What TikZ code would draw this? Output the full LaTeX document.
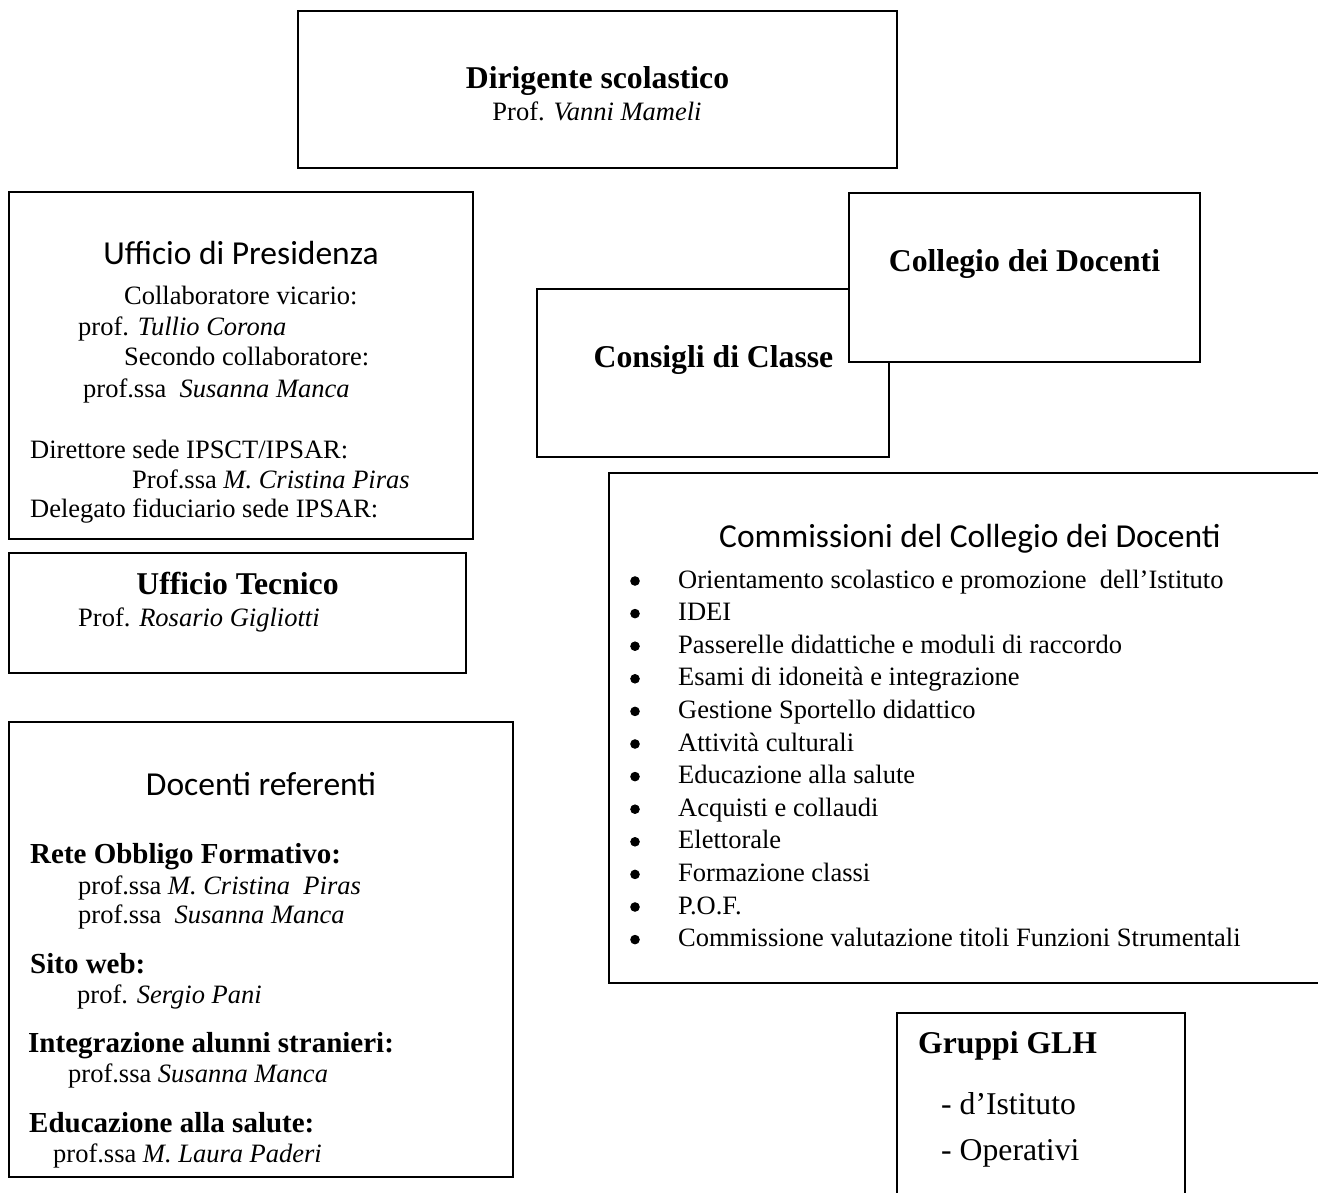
\documentclass[tikz,border=0pt]{standalone}
\usepackage{fontspec}
\setmainfont{Liberation Serif}
\newfontfamily\calib{Carlito}
\begin{document}
\begin{tikzpicture}[x=1pt,y=-1pt,
  box/.style={draw=black, line width=2pt, fill=white, inner sep=0pt, outer sep=0pt, anchor=north west},
  txt/.style={inner sep=0pt, anchor=base west, font=\fontsize{26.5}{30}\selectfont},
  ttl/.style={inner sep=0pt, anchor=base, font=\fontsize{31.7}{36}\selectfont\bfseries},
  sub/.style={inner sep=0pt, anchor=base west, font=\fontsize{29}{33}\selectfont\bfseries},
  cal/.style={inner sep=0pt, anchor=base, font=\fontsize{33.5}{38}\selectfont\calib},
  big/.style={inner sep=0pt, anchor=base west, font=\fontsize{31.7}{36}\selectfont},
  bul/.style={circle, draw=black, line width=1pt, fill=black, inner sep=0pt, minimum size=8.5pt}
]
\useasboundingbox (0,0) rectangle (1318,1193);
\clip (0,0) rectangle (1318,1193);

% Dirigente
\node[box, minimum width=599pt, minimum height=157pt] (dir) at (298,11) {};
\node[ttl] (dirt) at (597.5,89) {Dirigente scolastico};
\node[inner sep=0pt, anchor=base, font=\fontsize{26.5}{30}\selectfont] (dirs) at (597,121) {Prof. \textit{Vanni Mameli}};

% Ufficio di Presidenza
\node[box, minimum width=464pt, minimum height=347pt] (uff) at (9,192) {};
\node[cal] (uffh) at (241,265) {Ufficio di Presidenza};
\node[txt] (u1) at (124,305) {Collaboratore vicario:};
\node[txt] (u2) at (78,335) {prof. \textit{Tullio Corona}};
\node[txt] (u3) at (124,365) {Secondo collaboratore:};
\node[txt] (u4) at (83,397) {prof.ssa\ \ \textit{Susanna Manca}};
\node[txt] (u5) at (30,458) {Direttore sede IPSCT/IPSAR:};
\node[txt] (u6) at (132,488) {Prof.ssa \textit{M. Cristina Piras}};
\node[txt] (u7) at (30,517) {Delegato fiduciario sede IPSAR:};

% Ufficio Tecnico
\node[box, minimum width=457pt, minimum height=120pt] (tec) at (9,553) {};
\node[ttl] (tect) at (237.5,594) {Ufficio Tecnico};
\node[txt] (tecs) at (78,626) {Prof. \textit{Rosario Gigliotti}};

% Docenti referenti
\node[box, minimum width=504pt, minimum height=455pt] (doc) at (9,722) {};
\node[cal] (doch) at (261,795) {Docenti referenti};
\node[sub] (d1) at (30,863) {Rete Obbligo Formativo:};
\node[txt] (d2) at (78,894) {prof.ssa \textit{M. Cristina\ \ Piras}};
\node[txt] (d3) at (78,923) {prof.ssa\ \ \textit{Susanna Manca}};
\node[sub] (d4) at (30,973) {Sito web:};
\node[txt] (d5) at (77,1003) {prof. \textit{Sergio Pani}};
\node[sub] (d6) at (28,1052) {Integrazione alunni stranieri:};
\node[txt] (d7) at (68,1082) {prof.ssa \textit{Susanna Manca}};
\node[sub] (d8) at (29,1132) {Educazione alla salute:};
\node[txt] (d9) at (53,1162) {prof.ssa \textit{M. Laura Paderi}};

% Consigli di Classe and Collegio dei Docenti
\node[box, minimum width=352pt, minimum height=168pt] (cons) at (537,289) {};
\node[ttl] (const) at (713.5,367) {Consigli di Classe};
\node[box, minimum width=351pt, minimum height=169pt] (coll) at (849,193) {};
\node[ttl] (collt) at (1024.5,272) {Collegio dei Docenti};

% Commissioni
\node[box, minimum width=724pt, minimum height=510pt] (com) at (608.5,473) {};
\node[cal] (comh) at (970,547) {Commissioni del Collegio dei Docenti};
\foreach \t [count=\i] in {%
  {Orientamento scolastico e promozione\ \ dell’Istituto},
  {IDEI},
  {Passerelle didattiche e moduli di raccordo},
  {Esami di idoneità e integrazione},
  {Gestione Sportello didattico},
  {Attività culturali},
  {Educazione alla salute},
  {Acquisti e collaudi},
  {Elettorale},
  {Formazione classi},
  {P.O.F.},
  {Commissione valutazione titoli Funzioni Strumentali}} {
  \node[bul] (bul\i) at (635,{581+32.6*(\i-1)}) {};
  \node[txt] (item\i) at (678,{588+32.6*(\i-1)}) {\t};
}

% Gruppi GLH
\node[box, minimum width=288pt, minimum height=240pt] (glh) at (897,1013) {};
\node[ttl, anchor=base west] (glht) at (918,1053) {Gruppi GLH};
\node[big] (g1) at (941,1114) {- d’Istituto};
\node[big] (g2) at (941,1160) {- Operativi};
\end{tikzpicture}
\end{document}
